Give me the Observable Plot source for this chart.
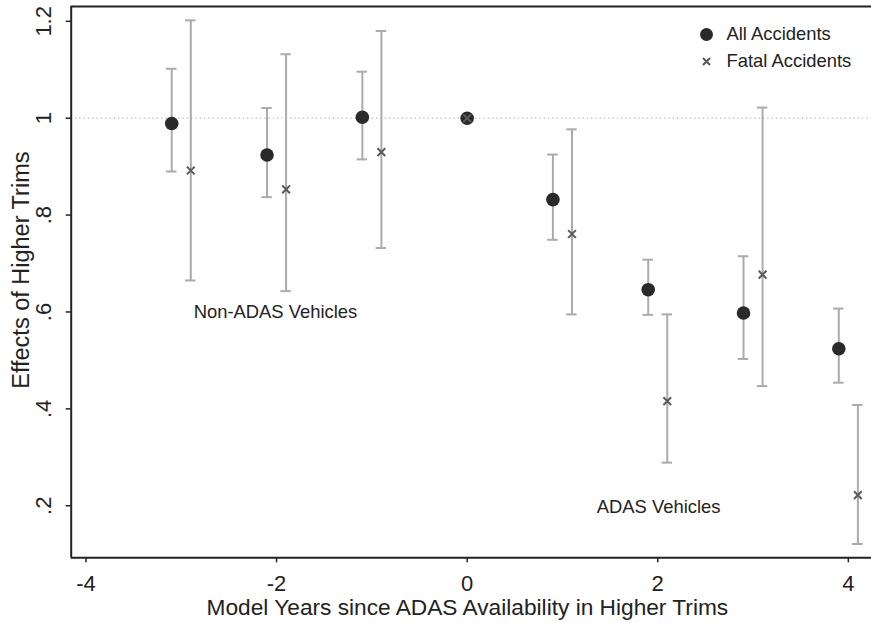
<!DOCTYPE html>
<html>
<head>
<meta charset="utf-8">
<script src="https://cdn.jsdelivr.net/npm/d3@7"></script>
<script src="https://cdn.jsdelivr.net/npm/@observablehq/plot@0.6"></script>
<style>
  html, body { margin: 0; padding: 0; background: #fff; }
  #chart svg { display: block; }
</style>
</head>
<body>
<div id="chart"></div>
<script>
// ---- data ----
const xAll     = [-3.1, -2.1, -1.1, 0, 0.9, 1.9, 2.9, 3.9];
const allEst   = [0.989, 0.924, 1.002, 1.0, 0.832, 0.646, 0.598, 0.524];
const allLo    = [0.890, 0.837, 0.915, null, 0.749, 0.594, 0.503, 0.454];
const allHi    = [1.102, 1.021, 1.096, null, 0.925, 0.708, 0.715, 0.607];

const xFatal   = [-2.9, -1.9, -0.9, 0, 1.1, 2.1, 3.1, 4.1];
const fatalEst = [0.892, 0.853, 0.930, 1.0, 0.761, 0.416, 0.677, 0.222];
const fatalLo  = [0.665, 0.643, 0.732, null, 0.595, 0.289, 0.447, 0.121];
const fatalHi  = [1.202, 1.132, 1.180, null, 0.977, 0.595, 1.022, 0.408];

const xTicks = [-4, -2, 0, 2, 4];
const xTickLabels = ["-4", "-2", "0", "2", "4"];
const yTicks = [0.2, 0.4, 0.6, 0.8, 1.0, 1.2];
const yTickLabels = [".2", ".4", ".6", ".8", "1", "1.2"];
const refLine = [1];

const legendLabels = ["All Accidents", "Fatal Accidents"];
const annotations = [
  {label: "Non-ADAS Vehicles", x: -2.87, y: 0.599},
  {label: "ADAS Vehicles", x: 1.36, y: 0.198}
];

const xDomain = [-4.155, 4.243];
const yDomain = [0.0925, 1.2306];

// ---- tables ----
const all = xAll.map((x, i) => ({x, est: allEst[i], lo: allLo[i], hi: allHi[i]}));
const fatal = xFatal.map((x, i) => ({x, est: fatalEst[i], lo: fatalLo[i], hi: fatalHi[i]}));
const bars = [...all, ...fatal].filter(d => d.lo != null);
const xTickData = xTicks.map((v, i) => ({v, label: xTickLabels[i]}));
const yTickData = yTicks.map((v, i) => ({v, label: yTickLabels[i]}));

const FONT = "Liberation Sans, Arial, Helvetica, sans-serif";
const BAR = "#ababab";
const CAP = 0.055;

const chart = Plot.plot({
  width: 871,
  height: 623,
  marginLeft: 70.7,
  marginRight: 0,
  marginTop: 6,
  marginBottom: 65.7,
  style: {fontFamily: FONT, background: "#fff", color: "#222"},
  x: {domain: xDomain, axis: null},
  y: {domain: yDomain, axis: null},
  marks: [
    // reference line at 1
    Plot.ruleY(refLine, {stroke: "#b8b8b8", strokeWidth: 1.3, strokeDasharray: "1.3,3"}),
    // error bars
    Plot.ruleX(bars, {x: "x", y1: "lo", y2: "hi", stroke: BAR, strokeWidth: 2}),
    Plot.ruleY(bars, {y: "lo", x1: d => d.x - CAP, x2: d => d.x + CAP, stroke: BAR, strokeWidth: 2}),
    Plot.ruleY(bars, {y: "hi", x1: d => d.x - CAP, x2: d => d.x + CAP, stroke: BAR, strokeWidth: 2}),
    // points
    Plot.dot(all, {x: "x", y: "est", r: 6.8, fill: "#2a2a2a", stroke: "none"}),
    Plot.dot(fatal, {x: "x", y: "est", symbol: "times", r: 3.6, stroke: "#5a5a5a", strokeWidth: 2}),
    // frame lines
    Plot.ruleX([xDomain[0]], {stroke: "#222", strokeWidth: 2}),
    Plot.ruleY([yDomain[0]], {stroke: "#222", strokeWidth: 2}),
    Plot.ruleY([yDomain[1]], {stroke: "#222", strokeWidth: 2}),
    // x axis
    Plot.axisX(xTicks, {tickSize: 5, label: null, stroke: "#222", strokeWidth: 1.5, text: null}),
    Plot.text(xTickData, {x: "v", text: "label", frameAnchor: "bottom", dy: 26, fontSize: 22, fill: "#222", textAnchor: "middle", lineAnchor: "middle"}),
    // y axis
    Plot.axisY(yTicks, {tickSize: 5, label: null, stroke: "#222", strokeWidth: 1.5, text: null}),
    Plot.text(yTickData, {y: "v", text: "label", frameAnchor: "left", dx: -27, rotate: -90, fontSize: 22, fill: "#222", textAnchor: "middle", lineAnchor: "middle"}),
    // axis titles
    Plot.text(["Model Years since ADAS Availability in Higher Trims"], {text: d => d, frameAnchor: "bottom", dx: -4, dy: 50, fontSize: 22.7, fill: "#222", textAnchor: "middle", lineAnchor: "middle"}),
    Plot.text(["Effects of Higher Trims"], {text: d => d, frameAnchor: "left", dx: -50, dy: -12, rotate: -90, fontSize: 23.5, fill: "#222", textAnchor: "middle", lineAnchor: "middle"}),
    // annotations
    Plot.text(annotations, {x: "x", y: "y", text: "label", textAnchor: "start", fontSize: 18.4, fill: "#222", lineAnchor: "middle"}),
    // legend
    Plot.dot([legendLabels[0]], {frameAnchor: "top-right", dx: -165, dy: 28, r: 6.5, fill: "#2a2a2a"}),
    Plot.dot([legendLabels[1]], {frameAnchor: "top-right", dx: -165, dy: 55, symbol: "times", r: 3.3, stroke: "#5a5a5a", strokeWidth: 2}),
    Plot.text([legendLabels[0]], {text: d => d, frameAnchor: "top-right", dx: -145, dy: 28, textAnchor: "start", fontSize: 18.4, fill: "#222", lineAnchor: "middle"}),
    Plot.text([legendLabels[1]], {text: d => d, frameAnchor: "top-right", dx: -145, dy: 55, textAnchor: "start", fontSize: 18.4, fill: "#222", lineAnchor: "middle"})
  ]
});
document.getElementById("chart").appendChild(chart);
</script>
</body>
</html>
